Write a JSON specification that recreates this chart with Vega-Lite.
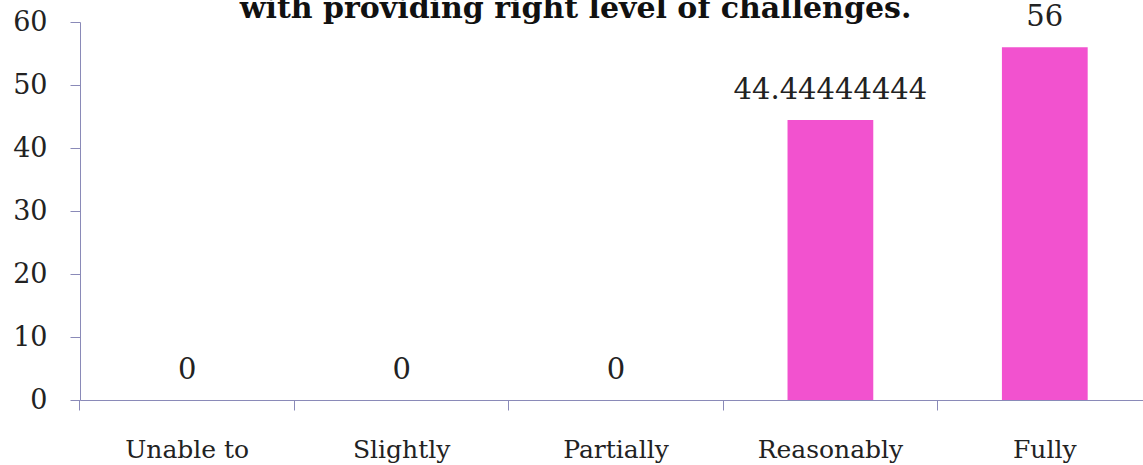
{
  "$schema": "https://vega.github.io/schema/vega-lite/v6.json",
  "width": 1063,
  "height": 378,
  "autosize": "none",
  "padding": {"left": 80, "top": 22, "right": 0, "bottom": 65},
  "background": "white",
  "config": {"view": {"stroke": null}},
  "title": {
    "text": "with providing right level of challenges.",
    "font": "DejaVu Serif",
    "fontSize": 30,
    "fontWeight": "bold",
    "color": "#111111",
    "anchor": "middle",
    "baseline": "alphabetic",
    "offset": 0,
    "dy": 45,
    "dx": -36
  },
  "data": {
    "values": [
      {"level": "Unable to", "value": 0},
      {"level": "Slightly", "value": 0},
      {"level": "Partially", "value": 0},
      {"level": "Reasonably", "value": 44.44444444},
      {"level": "Fully", "value": 56}
    ]
  },
  "encoding": {
    "x": {
      "field": "level",
      "type": "nominal",
      "sort": null,
      "title": null,
      "scale": {"range": [0, 1072], "paddingInner": 0.6, "paddingOuter": 0.3},
      "axis": {
        "bandPosition": -0.75,
        "labelAngle": 0,
        "labelFont": "DejaVu Serif",
        "labelFontSize": 25,
        "labelColor": "#222222",
        "labelPadding": 27,
        "domainColor": "#8a8ab8",
        "tickColor": "#8a8ab8",
        "tickSize": 10
      }
    },
    "y": {
      "field": "value",
      "type": "quantitative",
      "title": null,
      "scale": {"domain": [0, 60]},
      "axis": {
        "values": [0, 10, 20, 30, 40, 50, 60],
        "grid": false,
        "labelFont": "DejaVu Serif",
        "labelFontSize": 27,
        "labelColor": "#222222",
        "labelPadding": 23,
        "domainColor": "#8a8ab8",
        "tickColor": "#8a8ab8",
        "tickSize": 10
      }
    }
  },
  "layer": [
    {"mark": {"type": "bar", "color": "#F252CF"}},
    {
      "mark": {
        "type": "text",
        "font": "DejaVu Serif",
        "fontSize": 29,
        "color": "#222222",
        "baseline": "alphabetic",
        "dy": -21
      },
      "encoding": {"text": {"field": "value", "type": "quantitative", "format": ".10~g"}}
    }
  ]
}
